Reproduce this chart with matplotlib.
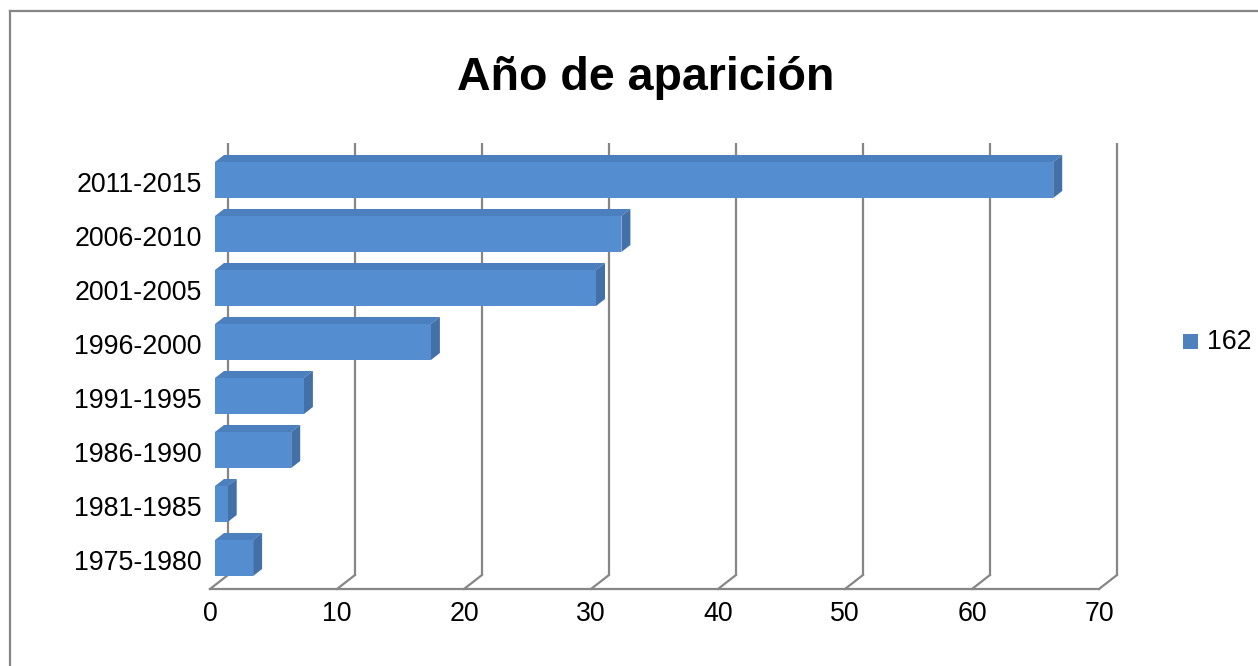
import matplotlib
matplotlib.use("Agg")
import matplotlib.pyplot as plt
from matplotlib.patches import Polygon, Rectangle
from matplotlib.lines import Line2D

# ---- data ----
categories = ["1975-1980", "1981-1985", "1986-1990", "1991-1995",
              "1996-2000", "2001-2005", "2006-2010", "2011-2015"]
values = [3, 1, 6, 7, 17, 30, 32, 66]
series_name = "162"
title = "Año de aparición"
xticks = [0, 10, 20, 30, 40, 50, 60, 70]

W, H = 1258, 666
fig = plt.figure(figsize=(W / 100, H / 100), dpi=100)
plt.rcParams['font.family'] = ['Liberation Sans', 'DejaVu Sans']

# axes = front plane of bars
x0px, x1px = 215, 1104
ytop_px, ybot_px = 153, 585
ax = fig.add_axes([x0px / W, (H - ybot_px) / H, (x1px - x0px) / W, (ybot_px - ytop_px) / H])
ax.set_xlim(0, 70)
ax.set_ylim(-0.5, len(categories) - 0.5)
ax.axis('off')

pxx = (x1px - x0px) / 70.0
pxy = (ybot_px - ytop_px) / float(len(categories))

def dx(p):
    return p / pxx

def dy(p):
    return -p / pxy  # pixel down -> data

grid_c = '#868686'
fs = 19.3
floor = -0.5
# back wall offset and front floor offset (pixels)
bx, by = 13, -10
fx, fy = -5, 4
top = len(categories) - 0.5
for t in xticks:
    ax.plot([t + dx(bx), t + dx(bx)], [floor + dy(by), top + dy(by)],
            color=grid_c, lw=1.6, clip_on=False, solid_capstyle='butt', zorder=1)
    ax.plot([t + dx(bx), t + dx(fx)], [floor + dy(by), floor + dy(fy)],
            color=grid_c, lw=1.6, clip_on=False, zorder=1)
    ax.text(t + dx(fx), floor + dy(fy) + dy(25), str(t), ha='center', va='center',
            fontsize=fs, color='black')
ax.plot([xticks[0] + dx(fx), xticks[-1] + dx(fx)], [floor + dy(fy), floor + dy(fy)],
        color=grid_c, lw=1.6, clip_on=False, zorder=1)

# bars
h = 0.667
front_c, top_c, side_c = '#558ed0', '#4b7fbd', '#4470a8'
ox, oy = dx(9), dy(-7)
ys = list(range(len(categories)))
ax.barh(ys, values, height=h, color=front_c, zorder=3, clip_on=False)
for y, v, lab in zip(ys, values, categories):
    t_poly = [(0, y + h / 2), (v, y + h / 2), (v + ox, y + h / 2 + oy), (0 + ox, y + h / 2 + oy)]
    s_poly = [(v, y - h / 2), (v, y + h / 2), (v + ox, y + h / 2 + oy), (v + ox, y - h / 2 + oy)]
    ax.add_patch(Polygon(t_poly, closed=True, facecolor=top_c, edgecolor='none', zorder=2.5, clip_on=False))
    ax.add_patch(Polygon(s_poly, closed=True, facecolor=side_c, edgecolor='none', zorder=2.5, clip_on=False))
    ax.text(dx(-13), y + dy(5), lab, ha='right', va='center', fontsize=fs, color='black')

# title
fig.text(646 / W, (H - 90) / H, title, ha='center', va='baseline',
         fontsize=33.5, fontweight='bold', color='black')

# legend
fig.patches.append(Rectangle((1183 / W, (H - 349) / H), 15 / W, 15 / H,
                             transform=fig.transFigure, facecolor='#4f81bd', edgecolor='none'))
fig.text(1207 / W, (H - 342) / H, series_name, ha='left', va='center', fontsize=fs, color='black')

# chart border (top and left visible)
fig.add_artist(Line2D([10 / W, 1.0], [(H - 11) / H, (H - 11) / H], transform=fig.transFigure,
                      color=grid_c, lw=1.6))
fig.add_artist(Line2D([10 / W, 10 / W], [(H - 11) / H, 0.0], transform=fig.transFigure,
                      color=grid_c, lw=1.6))

fig.savefig('out.png', dpi=100)
